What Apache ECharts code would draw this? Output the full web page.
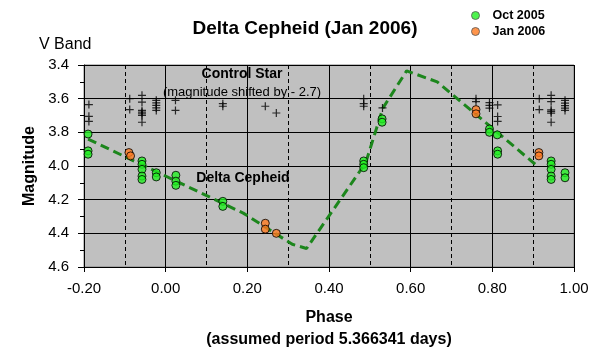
<!DOCTYPE html>
<html>
<head>
<meta charset="utf-8">
<script src="https://cdn.jsdelivr.net/npm/echarts@6/dist/echarts.min.js"></script>
<style>
html,body{margin:0;padding:0;background:#fff;}
#c{width:609px;height:361px;}
</style>
</head>
<body>
<div id="c"></div>
<script>
// ---- data ----
var octPhase = [-0.19,-0.19,-0.19, -0.058,-0.058,-0.058,-0.058,-0.058, -0.023,-0.023, 0.025,0.025,0.025, 0.14,0.14, 0.485,0.485,0.485, 0.53,0.53, 0.793,0.793, 0.812, 0.813,0.813, 0.944,0.944,0.944,0.944,0.944, 0.978,0.978];
var octMag   = [3.81,3.91,3.93, 3.97,3.99,4.02,4.06,4.08, 4.04,4.065, 4.055,4.09,4.115, 4.21,4.24, 3.97,3.99,4.01, 3.72,3.74, 3.78,3.80, 3.815, 3.91,3.93, 3.97,3.99,4.02,4.06,4.08, 4.04,4.07];

var janPhase = [-0.09,-0.086, 0.244,0.244, 0.271, 0.76,0.76, 0.914,0.914];
var janMag   = [3.92,3.94, 4.34,4.375, 4.40, 3.665,3.69, 3.92,3.94];

var ctlPhase = [-0.188,-0.188,-0.188, -0.088,-0.088, -0.058,-0.058,-0.058,-0.058,-0.058,-0.058,-0.058, -0.023,-0.023,-0.023,-0.023,-0.023, 0.024,0.024, 0.14,0.14, 0.244, 0.271, 0.485,0.485,0.485, 0.531, 0.76,0.76, 0.793,0.793,0.793, 0.813,0.813,0.813, 0.915,0.915, 0.944,0.944,0.944,0.944,0.944,0.944, 0.978,0.978,0.978,0.978,0.978];
var ctlMag   = [3.635,3.705,3.735, 3.60,3.665, 3.58,3.62,3.67,3.68,3.69,3.70,3.74, 3.61,3.625,3.64,3.655,3.67, 3.61,3.67, 3.63,3.645, 3.645, 3.685, 3.60,3.63,3.645, 3.655, 3.60,3.617, 3.623,3.64,3.656, 3.637,3.706,3.735, 3.60,3.665, 3.58,3.617,3.666,3.676,3.686,3.74, 3.61,3.627,3.641,3.656,3.67];

var curvePhase = [-0.19, 0.19, 0.31, 0.345, 0.49, 0.532, 0.59, 0.665, 0.91];
var curveMag   = [3.84, 4.28, 4.465, 4.49, 3.98, 3.656, 3.435, 3.50, 4.0];

var xTicks = {min:-0.2, max:1.0, step:0.2};
var yTicks = {min:3.4, max:4.6, step:0.2};

function pairs(a,b){ return a.map(function(v,i){ return [v,b[i]]; }); }

var FONT = 'Liberation Sans, Arial, sans-serif';
var plus = 'path://M4.25,0h1.5v4.25h4.25v1.5h-4.25v4.25h-1.5v-4.25h-4.25v-1.5h4.25z';

var chart = echarts.init(document.getElementById('c'), null, {renderer:'canvas'});
chart.setOption({
  animation:false,
  backgroundColor:'#ffffff',
  textStyle:{fontFamily:FONT},
  title:[
    {text:'Delta Cepheid (Jan 2006)', left:305, top:29, textAlign:'center', textVerticalAlign:'middle',
     textStyle:{fontFamily:FONT, fontSize:19, fontWeight:'bold', color:'#000'}, padding:0},
    {text:'V Band', left:39, top:37, padding:0,
     textStyle:{fontFamily:FONT, fontSize:16, fontWeight:'normal', color:'#000'}}
  ],
  legend:{
    orient:'vertical', left:471, top:9, itemWidth:8, itemHeight:8, itemGap:3, padding:0,
    icon:'circle',
    itemStyle:{borderColor:'#555', borderWidth:1},
    textStyle:{fontFamily:FONT, fontSize:12.5, fontWeight:'bold', color:'#000', padding:[0,0,0,8]},
    data:['Oct 2005','Jan 2006']
  },
  grid:{left:84, right:35, top:65, bottom:94, show:true, backgroundColor:'#c0c0c0', borderColor:'#808080', borderWidth:1},
  xAxis:{
    type:'value', min:xTicks.min, max:xTicks.max, interval:xTicks.step,
    name:'Phase\n(assumed period 5.366341 days)', nameLocation:'middle', nameGap:40,
    nameTextStyle:{fontFamily:FONT, fontSize:16, fontWeight:'bold', color:'#000', lineHeight:22},
    axisLine:{onZero:false, lineStyle:{color:'#000', width:1}},
    axisTick:{show:true, length:5, lineStyle:{color:'#000'}},
    minorTick:{show:false, splitNumber:2},
    axisLabel:{fontFamily:FONT, fontSize:15, color:'#000', margin:14, formatter:function(v){return v.toFixed(2);}},
    splitLine:{show:true, lineStyle:{color:'#000', width:1}},
    minorSplitLine:{show:true, lineStyle:{color:'#000', width:1, type:[4,3]}}
  },
  yAxis:{
    type:'value', inverse:true, min:yTicks.min, max:yTicks.max, interval:yTicks.step,
    name:'Magnitude', nameLocation:'middle', nameGap:46, nameRotate:90,
    nameTextStyle:{fontFamily:FONT, fontSize:16, fontWeight:'bold', color:'#000'},
    axisLine:{show:true, onZero:false, lineStyle:{color:'#000', width:1}},
    axisTick:{show:true, length:6, lineStyle:{color:'#000'}},
    minorTick:{show:true, splitNumber:2, length:4, lineStyle:{color:'#000'}},
    axisLabel:{fontFamily:FONT, fontSize:15, color:'#000', margin:15, formatter:function(v){return v.toFixed(1);}},
    splitLine:{show:true, lineStyle:{color:'#000', width:1}},
    minorSplitLine:{show:false}
  },
  graphic:[
    {type:'text', x:242, y:74, style:{text:'Control Star', fontFamily:FONT, fontSize:14, fontWeight:'bold', fill:'#000', textAlign:'center', textVerticalAlign:'middle'}, z:10},
    {type:'text', x:242, y:92, style:{text:'(magnitude shifted by - 2.7)', fontFamily:FONT, fontSize:13, fill:'#000', textAlign:'center', textVerticalAlign:'middle'}, z:10},
    {type:'text', x:243, y:178, style:{text:'Delta Cepheid', fontFamily:FONT, fontSize:14, fontWeight:'bold', fill:'#000', textAlign:'center', textVerticalAlign:'middle'}, z:10}
  ],
  series:[
    {name:'Curve', type:'line', data:pairs(curvePhase,curveMag), showSymbol:false, symbol:'none',
     lineStyle:{color:'#1c861c', width:3, type:[9,5]}, z:2, silent:true},
    {name:'Control', type:'scatter', data:pairs(ctlPhase,ctlMag), symbol:plus, symbolSize:8,
     itemStyle:{color:'#000'}, z:3},
    {name:'Oct 2005', type:'scatter', data:pairs(octPhase,octMag), symbol:'circle', symbolSize:8,
     itemStyle:{color:'#22f022', borderColor:'#000', borderWidth:1}, z:4},
    {name:'Jan 2006', type:'scatter', data:pairs(janPhase,janMag), symbol:'circle', symbolSize:8,
     itemStyle:{color:'#ff7a1f', borderColor:'#000', borderWidth:1}, z:5}
  ]
});
</script>
</body>
</html>
